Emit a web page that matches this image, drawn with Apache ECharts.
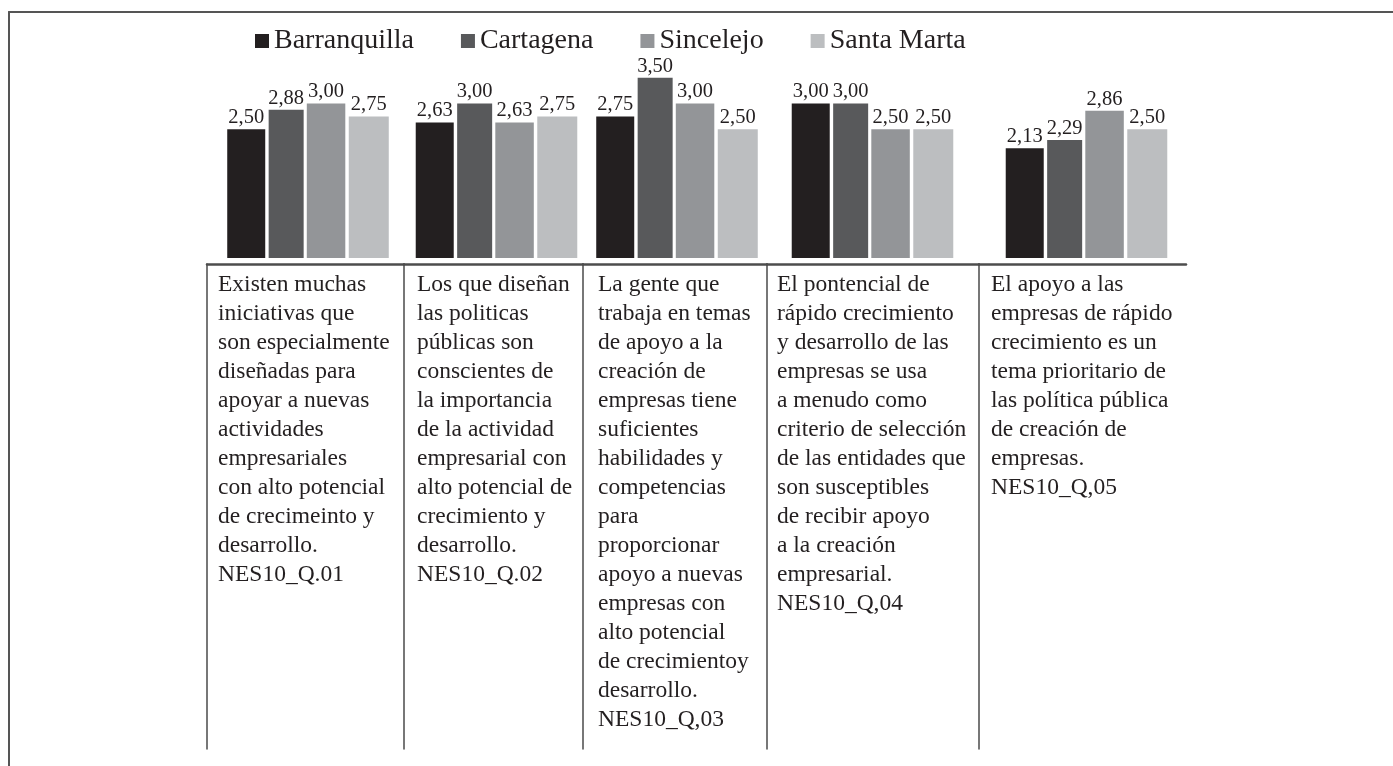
<!DOCTYPE html>
<html>
<head>
<meta charset="utf-8">
<script src="https://cdn.jsdelivr.net/npm/echarts@6/dist/echarts.min.js"></script>
<style>
  html, body { margin: 0; padding: 0; background: #ffffff; }
  #chart { width: 1393px; height: 766px; }
</style>
</head>
<body>
<div id="chart"></div>
<script>
// ---- data ----
const cities = ['Barranquilla', 'Cartagena', 'Sincelejo', 'Santa Marta'];
const barranquilla = [2.50, 2.63, 2.75, 3.00, 2.13];
const cartagena    = [2.88, 3.00, 3.50, 3.00, 2.29];
const sincelejo    = [3.00, 2.63, 3.00, 2.50, 2.86];
const santaMarta   = [2.75, 2.75, 2.50, 2.50, 2.50];
const categories = [
  ['Existen muchas', 'iniciativas que', 'son especialmente', 'diseñadas para', 'apoyar a nuevas', 'actividades', 'empresariales', 'con alto potencial', 'de crecimeinto y', 'desarrollo.', 'NES10_Q.01'],
  ['Los que diseñan', 'las politicas', 'públicas son', 'conscientes de', 'la importancia', 'de la actividad', 'empresarial con', 'alto potencial de', 'crecimiento y', 'desarrollo.', 'NES10_Q.02'],
  ['La gente que', 'trabaja en temas', 'de apoyo a la', 'creación de', 'empresas tiene', 'suficientes', 'habilidades y', 'competencias', 'para', 'proporcionar', 'apoyo a nuevas', 'empresas con', 'alto potencial', 'de crecimientoy', 'desarrollo.', 'NES10_Q,03'],
  ['El pontencial de', 'rápido crecimiento', 'y desarrollo de las', 'empresas se usa', 'a menudo como', 'criterio de selección', 'de las entidades que', 'son susceptibles', 'de recibir apoyo', 'a la creación', 'empresarial.', 'NES10_Q,04'],
  ['El apoyo a las', 'empresas de rápido', 'crecimiento es un', 'tema prioritario de', 'las política pública', 'de creación de', 'empresas.', 'NES10_Q,05']
];
const valuesByCity = [barranquilla, cartagena, sincelejo, santaMarta];

// ---- layout / style ----
const colors = ['#231f20', '#58595b', '#939598', '#bcbec0'];
const barWidths = [38, 35, 38.5, 40];
const groupCenters = [308, 496.5, 677, 872.5, 1086.5];
const colEdges = [207, 404, 583, 767, 979, 1186];
const textPad = [11, 13, 15, 10, 12];
const serif = '"Liberation Serif", "Times New Roman", Times, serif';

const grid = [], xAxis = [], yAxis = [], series = [];
const n = categories.length;

// top grids (bars)
for (let g = 0; g < n; g++) {
  grid.push({ left: groupCenters[g] - 100, width: 200, top: 52, bottom: 508 });
  xAxis.push({ gridIndex: g, type: 'category', data: ['c' + g], show: false });
  yAxis.push({ gridIndex: g, type: 'value', min: 0, max: 4, show: false });
}
// bottom grids (table of category texts)
for (let g = 0; g < n; g++) {
  const gi = n + g;
  grid.push({ left: colEdges[g], width: colEdges[g + 1] - colEdges[g], top: 264, bottom: 17 });
  xAxis.push({
    gridIndex: gi, type: 'category', position: 'top', boundaryGap: false,
    data: [categories[g].join('\n'), ''],
    axisLine: { show: true, onZero: false, lineStyle: { color: '#4d4d4d', width: 2.5 } },
    axisTick: { show: false },
    splitLine: { show: false },
    axisLabel: {
      inside: true, interval: 0, align: 'left', verticalAlign: 'top', margin: 6,
      padding: [0, 0, 0, textPad[g]],
      fontFamily: serif, fontSize: 23.5, lineHeight: 29, color: '#231f20'
    }
  });
  yAxis.push({
    gridIndex: gi, type: 'value', min: 0, max: 1,
    axisLine: { show: true, onZero: false, lineStyle: { color: '#4a4a4a', width: 1.5 } },
    axisTick: { show: false }, axisLabel: { show: false }, splitLine: { show: false }
  });
}
// outer frame grid
const fi = 2 * n;
grid.push({ left: 9, top: 12, right: 0, bottom: 0 });
xAxis.push({
  gridIndex: fi, type: 'value', position: 'top', min: 0, max: 1,
  axisLine: { show: true, onZero: false, lineStyle: { color: '#555555', width: 2 } },
  axisTick: { show: false }, axisLabel: { show: false }, splitLine: { show: false }
});
yAxis.push({
  gridIndex: fi, type: 'value', min: 0, max: 1,
  axisLine: { show: true, onZero: false, lineStyle: { color: '#555555', width: 2 } },
  axisTick: { show: false }, axisLabel: { show: false }, splitLine: { show: false }
});

// bar series
for (let c = 0; c < cities.length; c++) {
  for (let g = 0; g < n; g++) {
    series.push({
      type: 'bar', name: cities[c], xAxisIndex: g, yAxisIndex: g,
      data: [valuesByCity[c][g]],
      barWidth: barWidths[c], barGap: '9%',
      itemStyle: { color: colors[c] },
      label: {
        show: true, position: 'top', distance: 1,
        fontFamily: serif, fontSize: 20.5, color: '#231f20',
        formatter: p => p.value.toFixed(2).replace('.', ',')
      },
      emphasis: { disabled: true }
    });
  }
}

const chart = echarts.init(document.getElementById('chart'), null, { renderer: 'canvas' });
chart.setOption({
  animation: false,
  backgroundColor: '#ffffff',
  color: colors,
  legend: {
    data: cities, left: 255, top: 27, padding: 0,
    icon: 'rect', itemWidth: 14, itemHeight: 14, itemGap: 47,
    textStyle: { fontFamily: serif, fontSize: 28, color: '#231f20' }
  },
  grid, xAxis, yAxis, series
});
</script>
</body>
</html>
